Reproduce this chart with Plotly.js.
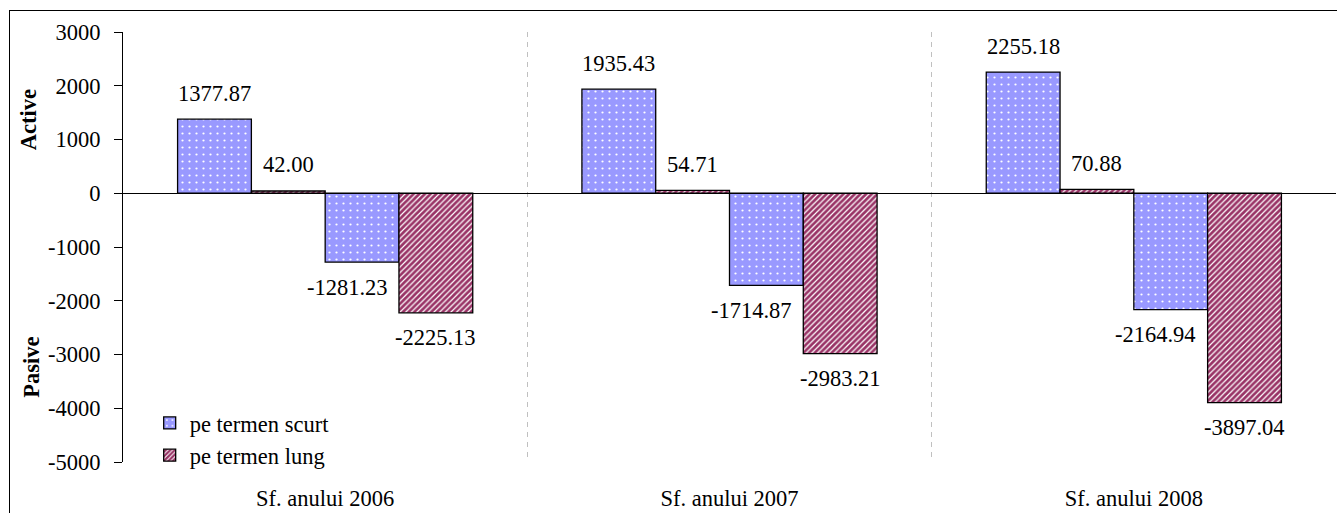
<!DOCTYPE html>
<html><head><meta charset="utf-8">
<script src="https://cdn.plot.ly/plotly-3.0.1.min.js"></script>
<style>
html,body{margin:0;padding:0;background:#fff;overflow:hidden}
#chart{position:absolute;left:0;top:0;width:1337px;height:513px}
#frame{position:absolute;left:9px;top:10px;width:1400px;height:600px;border:1px solid #000;pointer-events:none;z-index:5}
</style></head><body>
<div id="chart"></div><div id="frame"></div>
<script>
// ---- data ----
const categories = ["Sf. anului 2006", "Sf. anului 2007", "Sf. anului 2008"];
const activeShort = [1377.87, 1935.43, 2255.18];
const activeLong = [42.00, 54.71, 70.88];
const passiveShort = [-1281.23, -1714.87, -2164.94];
const passiveLong = [-2225.13, -2983.21, -3897.04];
const seriesNames = ["pe termen scurt", "pe termen lung"];
const yTickVals = [3000, 2000, 1000, 0, -1000, -2000, -3000, -4000, -5000];
const yTickText = ["3000", "2000", "1000", "0", "-1000", "-2000", "-3000", "-4000", "-5000"];
const sideTitles = ["Active", "Pasive"];

// ---- styles ----
const FONT = "Liberation Serif";
const FS = 22.5;
const shortMarker = {
  color: "#9999ff",
  line: {color: "#000", width: 1.3},
  pattern: {shape: ".", fgcolor: "#ffffff", bgcolor: "#9999ff", size: 7, solidity: 0.08}
};
const longMarker = {
  color: "#ffffff",
  line: {color: "#000", width: 1.3},
  pattern: {shape: "/", fgcolor: "#993366", bgcolor: "#ffffff", size: 4, solidity: 0.7}
};
const BARGAP = 0.27;

const allSeries = [activeShort, activeLong, passiveShort, passiveLong];
const markers = [shortMarker, longMarker, shortMarker, longMarker];
const groups = ["s", "l", "s", "l"];
const traces = allSeries.map((vals, i) => ({
  type: "bar",
  x: categories,
  y: vals,
  name: seriesNames[i % 2],
  legendgroup: groups[i],
  showlegend: i < 2,
  marker: markers[i],
  hoverinfo: "skip"
}));

// data labels
const labelXShift = [0, 0, -15, 0];
const w = (1 - BARGAP) / 4;
const annotations = [];
allSeries.forEach((vals, i) => {
  vals.forEach((v, j) => {
    annotations.push({
      xref: "x", yref: "y",
      x: j + (i - 1.5) * w, y: v,
      text: v.toFixed(2),
      showarrow: false,
      xanchor: "center", yanchor: "middle",
      yshift: v >= 0 ? 26 : -25,
      xshift: labelXShift[i],
      font: {family: FONT, size: FS, color: "#000"}
    });
  });
});
// side titles
annotations.push({
  xref: "paper", yref: "paper", x: 0, y: 0.795, xshift: -95,
  text: "<b>" + sideTitles[0] + "</b>", textangle: -90, showarrow: false,
  xanchor: "center", yanchor: "middle",
  font: {family: FONT, size: FS, color: "#000"}
});
annotations.push({
  xref: "paper", yref: "paper", x: 0, y: 0.219, xshift: -91,
  text: "<b>" + sideTitles[1] + "</b>", textangle: -90, showarrow: false,
  xanchor: "center", yanchor: "middle",
  font: {family: FONT, size: FS, color: "#000"}
});

const layout = {
  width: 1337, height: 513,
  margin: {l: 123, r: 1, t: 32, b: 51},
  paper_bgcolor: "#fff", plot_bgcolor: "#fff",
  barmode: "group", bargap: BARGAP, bargroupgap: 0,
  font: {family: FONT, size: FS, color: "#000"},
  showlegend: true,
  legend: {
    x: 0.022, y: 0.14, xanchor: "left", yanchor: "top",
    bgcolor: "rgba(0,0,0,0)", borderwidth: 0,
    font: {family: FONT, size: FS, color: "#000"},
    itemwidth: 30, tracegroupgap: 0, traceorder: "normal"
  },
  xaxis: {
    type: "category",
    tickson: "boundaries",
    showgrid: true, gridcolor: "#c0c0c0", gridwidth: 1, griddash: "5px,5px",
    showline: false, ticks: "", zeroline: false,
    ticklabelstandoff: 20,
    tickfont: {family: FONT, size: FS, color: "#000"},
    fixedrange: true
  },
  yaxis: {
    range: [-5000, 3000],
    tickmode: "array", tickvals: yTickVals, ticktext: yTickText,
    ticks: "outside", ticklen: 8, tickcolor: "#000", tickwidth: 1,
    showline: true, linecolor: "#000", linewidth: 1,
    showgrid: false,
    zeroline: true, zerolinecolor: "#000", zerolinewidth: 1,
    ticklabelstandoff: 9,
    tickfont: {family: FONT, size: FS, color: "#000"},
    fixedrange: true
  },
  annotations: annotations
};

Plotly.newPlot("chart", traces, layout, {displayModeBar: false, staticPlot: true});
</script>
</body></html>
